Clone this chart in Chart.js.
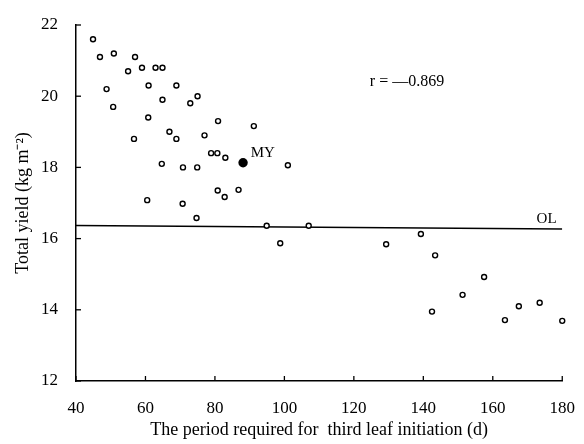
<!DOCTYPE html>
<html>
<head>
<meta charset="utf-8">
<script src="https://cdn.jsdelivr.net/npm/chart.js@4"></script>
<style>
  html, body { margin: 0; padding: 0; background: #fff; }
  #wrap { width: 584px; height: 444px; position: relative; }
</style>
</head>
<body>
<div id="wrap"><canvas id="chart"></canvas></div>
<script>
// observed plots: period to third leaf initiation (d) vs total yield (kg m-2)
const periodDays = [
  44.9, 46.9, 50.9, 57.0, 55.0, 59.0, 62.9, 64.9, 48.8, 60.9,
  68.9, 50.7, 64.9, 72.9, 75.0, 60.8, 80.9, 66.9, 68.9, 77.0,
  56.7, 78.9, 80.7, 64.7, 70.8, 74.9, 83.0, 91.2, 101.0, 80.8,
  82.8, 86.8, 60.5, 70.7, 74.7, 94.9, 107.0, 98.8, 129.3, 139.3,
  143.4, 157.5, 151.3, 142.5, 163.5, 167.5, 173.5, 180.0
];
const totalYield = [
  21.6, 21.1, 21.2, 21.1, 20.7, 20.8, 20.8, 20.8, 20.2, 20.3,
  20.3, 19.7, 19.9, 19.8, 20.0, 19.4, 19.3, 19.0, 18.8, 18.9,
  18.8, 18.4, 18.4, 18.1, 18.0, 18.0, 18.27, 19.16, 18.06, 17.35,
  17.17, 17.37, 17.08, 16.98, 16.58, 16.36, 16.36, 15.87, 15.84, 16.13,
  15.53, 14.92, 14.42, 13.95, 13.71, 14.1, 14.2, 13.69
];

// MY point (filled)
const myPeriod = [88.1];
const myYield = [18.13];

// OL reference line
const olPeriod = [40, 180];
const olYield = [16.37, 16.27];

const xTickValues = [40, 60, 80, 100, 120, 140, 160, 180];
const yTickValues = [12, 14, 16, 18, 20, 22];

const serif = '"Liberation Serif", "Times New Roman", serif';

const toPoints = (xs, ys) => xs.map((v, i) => ({ x: v, y: ys[i] }));

// inward tick marks plus the text notes on the plot
const extras = {
  id: 'extras',
  afterDraw(chart) {
    const { ctx, chartArea, scales: { x, y } } = chart;
    ctx.save();
    ctx.strokeStyle = '#000';
    ctx.lineWidth = 1.3;
    x.ticks.forEach(t => {
      const px = x.getPixelForValue(t.value);
      ctx.beginPath();
      ctx.moveTo(px, chartArea.bottom);
      ctx.lineTo(px, chartArea.bottom - 5);
      ctx.stroke();
    });
    y.ticks.forEach(t => {
      const py = y.getPixelForValue(t.value);
      ctx.beginPath();
      ctx.moveTo(chartArea.left, py);
      ctx.lineTo(chartArea.left + 5, py);
      ctx.stroke();
    });

    ctx.fillStyle = '#000';
    ctx.textBaseline = 'middle';
    ctx.textAlign = 'left';
    ctx.font = '16px ' + serif;
    ctx.fillText('r = \u20140.869', x.getPixelForValue(124.6), y.getPixelForValue(20.4));
    ctx.font = '15px ' + serif;
    ctx.fillText('MY', x.getPixelForValue(90.3), y.getPixelForValue(18.4));
    ctx.fillText('OL', x.getPixelForValue(172.6), y.getPixelForValue(16.55));
    ctx.restore();
  }
};

new Chart(document.getElementById('chart'), {
  type: 'scatter',
  data: {
    datasets: [
      {
        label: 'observed',
        data: toPoints(periodDays, totalYield),
        pointRadius: 2.5,
        pointBorderWidth: 1.4,
        pointBorderColor: '#000',
        pointBackgroundColor: '#fff',
        clip: false
      },
      {
        label: 'MY',
        data: toPoints(myPeriod, myYield),
        pointRadius: 4.7,
        pointBorderWidth: 0,
        pointBackgroundColor: '#000'
      },
      {
        label: 'OL',
        data: toPoints(olPeriod, olYield),
        showLine: true,
        pointRadius: 0,
        borderColor: '#000',
        borderWidth: 1.5
      }
    ]
  },
  options: {
    responsive: true,
    maintainAspectRatio: false,
    animation: false,
    layout: { padding: { top: 25, right: 18, left: 0, bottom: 0 } },
    plugins: {
      legend: { display: false },
      tooltip: { enabled: false }
    },
    scales: {
      x: {
        type: 'linear',
        min: 40,
        max: 180,
        afterBuildTicks: s => { s.ticks = xTickValues.map(v => ({ value: v })); },
        afterFit: s => { s.height = 63; },
        grid: { display: false },
        border: { display: true, color: '#000', width: 1.5 },
        ticks: { color: '#000', padding: 9, font: { family: serif, size: 17 } },
        title: {
          display: true,
          text: 'The period required for  third leaf initiation (d)',
          color: '#000',
          font: { family: serif, size: 18 },
          padding: { top: 0, bottom: 3 }
        }
      },
      y: {
        min: 12,
        max: 22,
        afterBuildTicks: s => { s.ticks = yTickValues.map(v => ({ value: v })); },
        afterFit: s => { s.width = 76; },
        grid: { display: false },
        border: { display: true, color: '#000', width: 1.5 },
        ticks: { color: '#000', padding: 10, font: { family: serif, size: 17 } },
        title: {
          display: true,
          text: 'Total yield (kg m\u207B\u00B2)',
          color: '#000',
          font: { family: serif, size: 18 },
          padding: { top: 12, bottom: 0 }
        }
      }
    }
  },
  plugins: [extras]
});
</script>
</body>
</html>
